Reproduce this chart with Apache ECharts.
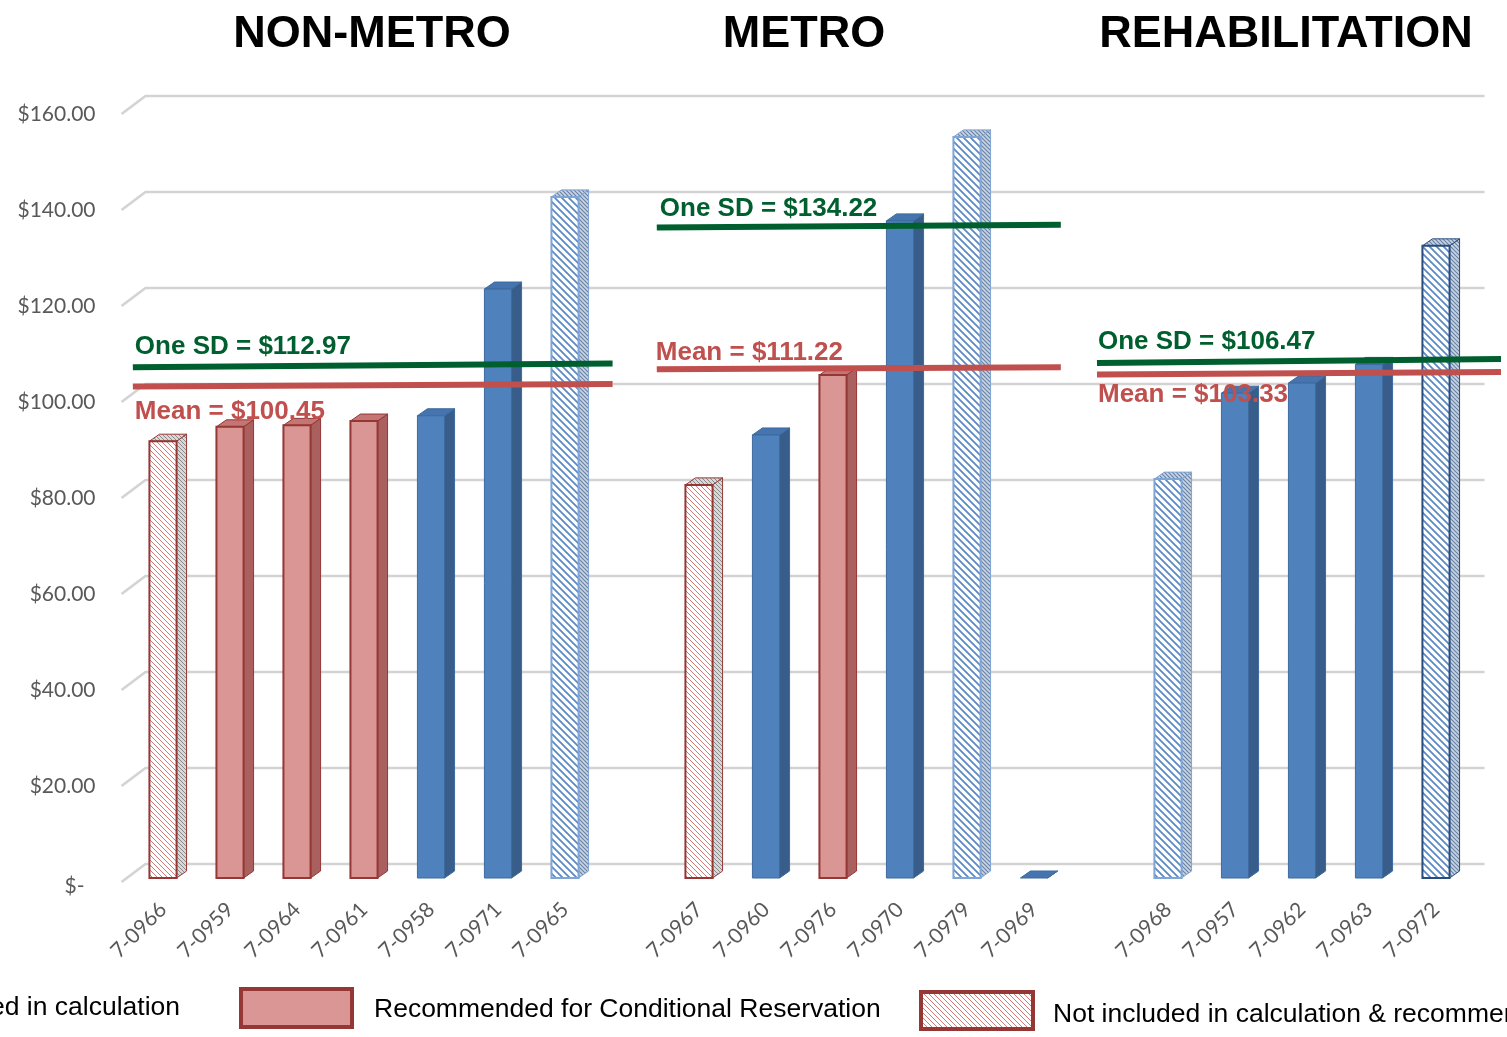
<!DOCTYPE html>
<html><head><meta charset="utf-8">
<script src="https://cdn.jsdelivr.net/npm/echarts/dist/echarts.min.js"></script>
<style>html,body{margin:0;padding:0;background:#fff;overflow:hidden}#c{width:1507px;height:1037px}</style>
</head><body><div id="c"></div>
<script>
// ---------- DATA ----------
const categories = ['7-0966','7-0959','7-0964','7-0961','7-0958','7-0971','7-0965','',
  '7-0967','7-0960','7-0976','7-0970','7-0979','7-0969','',
  '7-0968','7-0957','7-0962','7-0963','7-0972'];
const costValues = [91.0, 94.0, 94.3, 95.2, 96.3, 122.7, 141.9, null,
  81.9, 92.3, 104.8, 136.9, 154.4, 0, null,
  83.1, 101.0, 103.1, 107.0, 131.7];
const barTypes = ['redHatch','red','red','red','blue','blue','blueHatch', null,
  'redHatch','blue','red','blue','blueHatch','blue', null,
  'blueHatch','blue','blue','blue','blueHatch'];
const groupTitles = ['NON-METRO','METRO','REHABILITATION'];
const sdLabels = ['One SD = $112.97','One SD = $134.22','One SD = $106.47'];
const meanLabels = ['Mean = $100.45','Mean = $111.22','Mean = $103.33'];
// levels at which the lines are drawn in the picture (start / end of each line)
const sdLineStart = [106.4, 135.5, 107.3];
const sdLineEnd = [107.2, 136.1, 108.1];
const meanLineStart = [102.4, 106.0, 104.9];
const meanLineEnd = [102.9, 106.4, 105.4];
const lineFrom = [-0.45, 7.37, 13.94];
const lineTo = [6.71, 13.4, 19.97];
const yTicks = [0, 20, 40, 60, 80, 100, 120, 140, 160];
const legendLabels = ['Included in calculation','Recommended for Conditional Reservation','Not included in calculation & recommended'];

// ---------- PATTERNS ----------
function hatch(bg, fg, s, lw) {
  const c = document.createElement('canvas'); c.width = c.height = s;
  const g = c.getContext('2d'); g.fillStyle = bg; g.fillRect(0, 0, s, s);
  g.strokeStyle = fg; g.lineWidth = lw; g.beginPath();
  g.moveTo(-1, -1); g.lineTo(s + 1, s + 1);
  g.moveTo(s - 2, -2); g.lineTo(s + 2, 2);
  g.moveTo(-2, s - 2); g.lineTo(2, s + 2);
  g.stroke();
  return { image: c, repeat: 'repeat' };
}
const P = {
  redHatch: hatch('#ffffff', '#D27C7A', 5, 1),
  blueHatch: hatch('#ffffff', '#5B89C2', 7, 1.8),
  greyHatch: hatch('#d8d8d8', '#8a8a8a', 4, 1),
  blueSide: hatch('#c9d5e5', '#6a82a3', 4, 1.2)
};
const STYLE = {
  blue: { front: '#4F81BD', stroke: '#3D6A9F', lw: 1, side: '#385D8A', top: '#4574AE' },
  red: { front: '#D99694', stroke: '#953735', lw: 2, side: '#A9605E', top: '#C47674' },
  redHatch: { front: P.redHatch, stroke: '#953735', lw: 2, side: P.greyHatch, top: P.greyHatch },
  blueHatch: { front: P.blueHatch, stroke: '#7EA5D6', lw: 2, side: P.blueSide, top: P.blueSide }
};

const barData = [];
costValues.forEach((v, i) => { if (v !== null) barData.push([i, v]); });

function renderBar(params, api) {
  const i = api.value(0), v = api.value(1);
  const st = STYLE[barTypes[i]];
  const stroke = categories[i] === '7-0972' ? '#2A4C7D' : st.stroke;
  const t = api.coord([i, v]), b = api.coord([i, 0]);
  const bw = api.size([1, 0])[0] * 0.405;
  const x0 = t[0] - bw / 2, x1 = t[0] + bw / 2, yt = t[1], yb = b[1];
  const dx = 10, dy = -7;
  const children = [];
  children.push({ type: 'polygon', shape: { points: [[x1, yt], [x1 + dx, yt + dy], [x1 + dx, yb + dy], [x1, yb]] },
    style: { fill: st.side, stroke: stroke, lineWidth: 1 } });
  children.push({ type: 'polygon', shape: { points: [[x0, yt], [x1, yt], [x1 + dx, yt + dy], [x0 + dx, yt + dy]] },
    style: { fill: st.top, stroke: stroke, lineWidth: 1 } });
  if (yb - yt > 0.5) {
    children.push({ type: 'rect', shape: { x: x0, y: yt, width: bw, height: yb - yt },
      style: { fill: st.front, stroke: stroke, lineWidth: st.lw } });
  }
  return { type: 'group', children };
}

function renderGrid(params, api) {
  const v = api.value(1);
  const p = api.coord([-0.5, v]), q = api.coord([19.5, v]);
  return { type: 'polyline', shape: { points: [[p[0] - 8, p[1] + 4], [p[0] + 16, p[1] - 14], [q[0] + 15, p[1] - 14]] },
    style: { stroke: '#D3D3D3', lineWidth: 2.6, fill: null } };
}

// lines: [groupIndex, kind(0=sd,1=mean)]
const lineData = [];
for (let g = 0; g < 3; g++) { lineData.push([g, 0]); lineData.push([g, 1]); }
const labelDy = [[-20, 25], [-19, -16], [-21, 20]];
const labelDx = [[2, 2], [3, -1], [1, 1]];
function renderLine(params, api) {
  const g = api.value(0), k = api.value(1);
  const a = api.coord([lineFrom[g], k === 0 ? sdLineStart[g] : meanLineStart[g]]);
  const b = api.coord([lineTo[g], k === 0 ? sdLineEnd[g] : meanLineEnd[g]]);
  const col = k === 0 ? '#005F2E' : '#C0504D';
  return { type: 'group', children: [
    { type: 'line', shape: { x1: a[0], y1: a[1], x2: b[0], y2: b[1] }, style: { stroke: col, lineWidth: 6 } },
    { type: 'text', style: { text: k === 0 ? sdLabels[g] : meanLabels[g], x: a[0] + labelDx[g][k], y: a[1] + labelDy[g][k],
      fill: col, font: 'bold 26px "Liberation Sans", Arial, sans-serif', align: 'left', verticalAlign: 'middle' } }
  ] };
}

const chart = echarts.init(document.getElementById('c'), null, { renderer: 'canvas' });
const titleX = [372, 804, 1286];
const graphics = groupTitles.map((t, i) => ({ type: 'text', x: titleX[i], y: 35,
  style: { text: t, fill: '#000', font: 'bold 45px "Liberation Sans", Arial, sans-serif', align: 'center', verticalAlign: 'middle' } }));
const legFont = '26.5px "Liberation Sans", Arial, sans-serif';
graphics.push({ type: 'text', x: 180, y: 1008, style: { text: legendLabels[0], fill: '#000', font: legFont, align: 'right', verticalAlign: 'middle' } });
graphics.push({ type: 'rect', shape: { x: 241, y: 989, width: 111, height: 38 }, style: { fill: '#D99694', stroke: '#953735', lineWidth: 4 } });
graphics.push({ type: 'text', x: 374, y: 1010, style: { text: legendLabels[1], fill: '#000', font: legFont, align: 'left', verticalAlign: 'middle' } });
graphics.push({ type: 'rect', shape: { x: 921, y: 992, width: 112, height: 37 }, style: { fill: P.redHatch, stroke: '#953735', lineWidth: 4 } });
graphics.push({ type: 'text', x: 1053, y: 1015, style: { text: legendLabels[2], fill: '#000', font: legFont, align: 'left', verticalAlign: 'middle' } });

chart.setOption({
  animation: false,
  backgroundColor: '#ffffff',
  grid: { left: 129.5, right: 37.5, top: 110, bottom: 159, containLabel: false },
  xAxis: [
    { type: 'category', data: categories, axisLine: { show: false }, axisTick: { show: false }, splitLine: { show: false },
      axisLabel: { interval: 0, rotate: 45, margin: 28, color: '#595959', fontFamily: 'Lato', fontSize: 21 } },
    { type: 'value', min: -0.5, max: 19.5, show: false }
  ],
  yAxis: { type: 'value', min: 0, max: 160, interval: 20, splitLine: { show: false }, axisLine: { show: false }, axisTick: { show: false },
    axisLabel: { margin: 34, color: '#595959', fontFamily: 'Lato', fontSize: 21, padding: [8, 0, 0, 0],
      formatter: v => v === 0 ? '{z|$-}' : '$' + v.toFixed(2),
      rich: { z: { padding: [8, 11, 0, 0], color: '#595959', fontFamily: 'Lato', fontSize: 21 } } } },
  graphic: graphics,
  series: [
    { type: 'custom', xAxisIndex: 1, data: yTicks.map(v => [-0.5, v]), renderItem: renderGrid, z: 1, silent: true },
    { type: 'custom', xAxisIndex: 0, data: barData, renderItem: renderBar, z: 2 },
    { type: 'custom', xAxisIndex: 1, data: lineData, renderItem: renderLine, z: 3 }
  ]
});
</script></body></html>
